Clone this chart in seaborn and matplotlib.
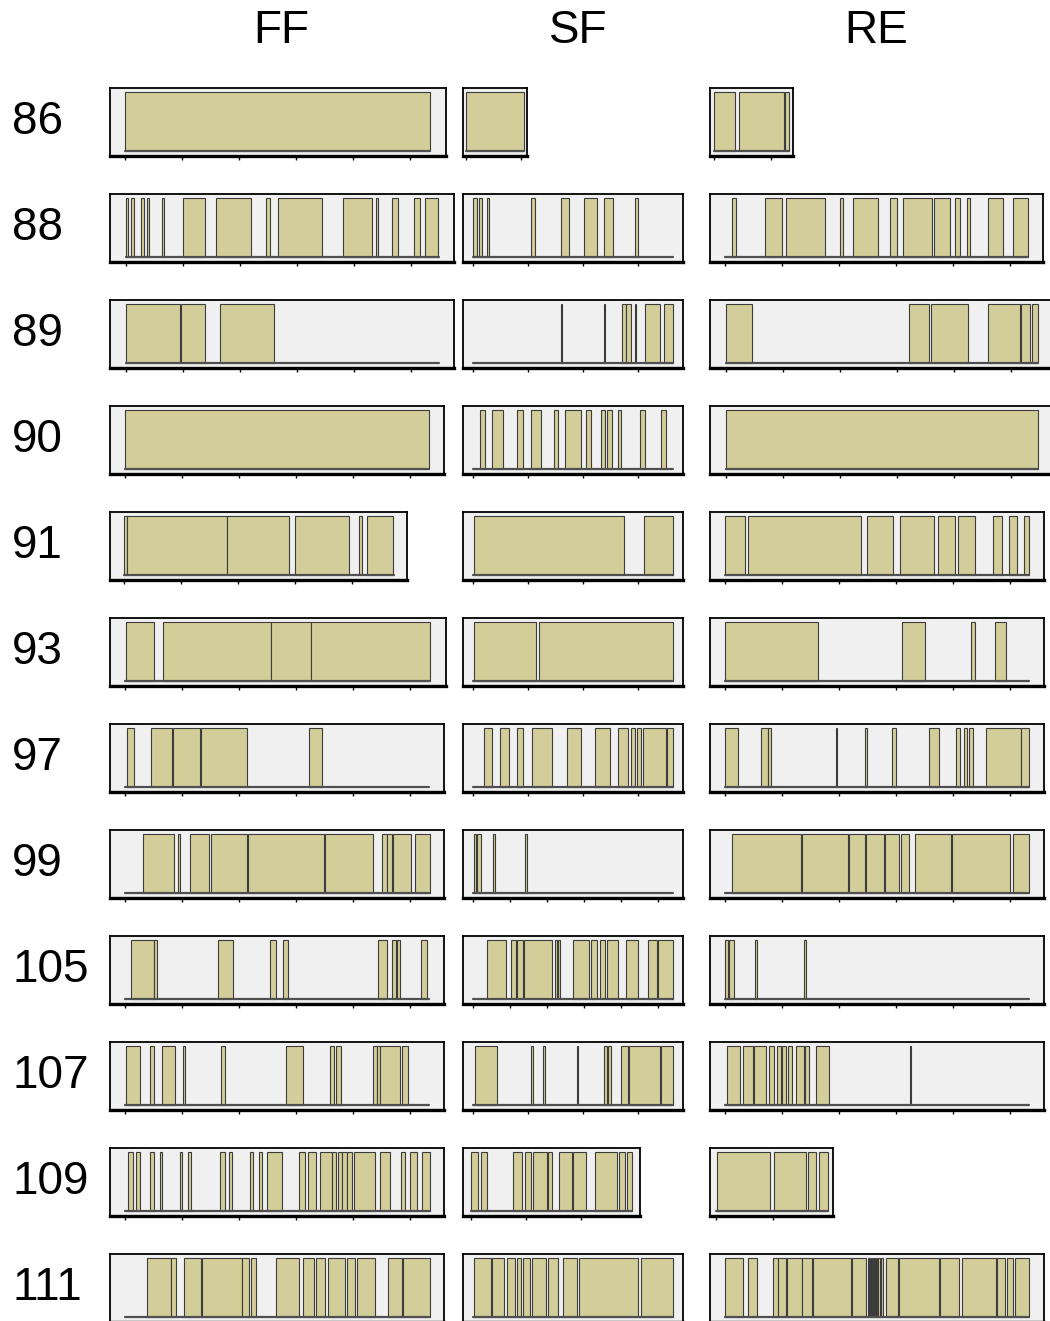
import matplotlib
matplotlib.use("Agg")
import matplotlib.pyplot as plt
import seaborn as sns

# Sessions (rows) and chamber groups (columns)
sessions = ["86", "88", "89", "90", "91", "93", "97", "99", "105", "107", "109", "111"]
groups = ["FF", "SF", "RE"]

# Length of the observed period for each session, per group (days)
ff_span = [305, 313, 313, 304, 270, 305, 304, 304, 304, 304, 304, 304]
sf_span = [58, 200, 200, 200, 200, 200, 200, 200, 200, 200, 161, 200]
re_span = [75, 303, 312, 312, 304, 304, 304, 304, 304, 304, 112, 304]

# Active spells (start, end) in days from the start of the period
ff_spells = {
    "86": [(0, 305)],
    "88": [(0, 2.7), (5.7, 8.3), (15.7, 18.7), (21, 23.3), (36.7, 38.7), (57.7, 79.3),
           (90, 125), (140.7, 144.7), (152, 196), (217.7, 246.7), (250.7, 252.7),
           (266.7, 272.3), (288.7, 294), (299.3, 312.7)],
    "89": [(0.7, 54.6), (55.8, 79.5), (94.6, 148.5)],
    "90": [(0, 304)],
    "91": [(0, 3), (3, 103.7), (103.7, 165), (171, 225.5), (235.8, 238.2), (243, 269)],
    "93": [(0.7, 29.2), (37.6, 145.5), (145.5, 186), (186, 304.3)],
    "97": [(1.9, 9.2), (25.5, 46.7), (48, 74.6), (75.8, 121.3), (183.7, 197)],
    "99": [(17.6, 49.2), (52.8, 55.2), (64.3, 83.7), (86, 121.9), (123, 198.8),
           (199.5, 248), (256.4, 261.3), (261.3, 266.7), (268, 285.5), (289.8, 304.3)],
    "105": [(5.5, 28.5), (28.5, 31.6), (92.8, 107.3), (144.3, 150.4), (157.6, 163),
            (252.8, 261.3), (266.7, 271), (271.6, 274.6), (295.8, 301.3)],
    "107": [(0.7, 14.6), (24.3, 28.5), (37, 49.8), (58.2, 60), (95.8, 100), (160.7, 178.2),
            (204.9, 209.2), (211, 215.8), (248, 251.6), (251.6, 254.6), (254.6, 275.2),
            (276.4, 282.5)],
    "109": [(3.1, 7.3), (10.4, 14.6), (24.9, 28.5), (34.6, 37), (54.6, 57), (63.1, 66.1),
            (95.2, 99.5), (103.7, 106.7), (124.3, 127.9), (133.4, 137), (141.3, 157),
            (174, 179.5), (182.5, 191), (194.6, 206.7), (206.7, 210.4), (212.8, 216.4),
            (216.4, 221.3), (221.3, 226.7), (228.5, 249.8), (255.2, 264.9), (275.8, 279.5),
            (284.3, 291.6), (297, 304.3)],
    "111": [(21.9, 45.5), (45.5, 50.4), (58.8, 75.8), (77, 117), (117, 123.7), (125.5, 130.4),
            (151, 174), (177.6, 188.5), (191, 200), (202.5, 219.5), (221.3, 229.8),
            (231.6, 249.8), (262.5, 277), (278.2, 304.3)],
}

sf_spells = {
    "86": [(0, 58)],
    "88": [(0, 4.3), (6, 9.3), (14.3, 16), (58.3, 61.7), (87.7, 96), (111, 124.3),
           (131.3, 139.7), (161.7, 165.3)],
    "89": [(88, 89), (130.5, 131.5), (149, 153), (153, 157.5), (161.5, 162.5),
           (171.5, 186.6), (190.8, 200)],
    "90": [(7, 11.5), (18.7, 29.6), (43.6, 50.2), (57.5, 68.4), (80.5, 84.8), (91.5, 107.8),
           (112.7, 118.1), (128.4, 132), (133.9, 139.3), (144.8, 148.4), (167.2, 172),
           (188.4, 193.3)],
    "91": [(0.5, 150.8), (170.8, 200)],
    "93": [(0.5, 63), (66, 200)],
    "97": [(10.8, 18.7), (27.2, 35.7), (43.6, 49.6), (58.7, 79.3), (93.9, 107.8),
           (122.4, 136.9), (144.8, 154.5), (157.5, 162.4), (163.6, 168.4), (170.2, 193.3),
           (193.9, 200)],
    "99": [(0.5, 3), (4.2, 7.8), (20, 21.8), (52, 54)],
    "105": [(13.9, 33.3), (38, 43), (44.2, 50.2), (50.8, 79.3), (82, 83.5), (85, 86.5),
            (100, 115.7), (118, 124.2), (127.2, 132), (133.9, 145.4), (153.3, 165.4),
            (174.5, 183.6), (184.8, 200)],
    "107": [(1.8, 23.6), (57.5, 60), (69.6, 72), (103.6, 105.4), (130.8, 133.9), (135, 138),
            (148.4, 154.5), (156.3, 186.6), (187.8, 200)],
    "109": [(0.4, 6.5), (9.5, 15.5), (41.5, 51.3), (53.7, 59.8), (61.5, 75.5), (77.4, 81),
            (87.7, 101), (102.2, 115), (123.5, 145.9), (147.7, 153.7), (155.5, 161)],
    "111": [(0.5, 17.5), (19.3, 30.8), (33.9, 41.8), (44.2, 48.4), (50.2, 56.9), (58.7, 73.3),
            (74.5, 84.8), (89.6, 103.6), (106, 165.4), (167.8, 200)],
}

re_spells = {
    "86": [(0, 21), (25, 70), (71, 75)],
    "88": [(6.7, 10.7), (40, 56.7), (60.7, 100), (115, 118.3), (127.7, 153.3), (164.7, 172),
           (178.3, 206.7), (208.7, 225), (230, 235.3), (241.7, 245), (262.7, 278),
           (288, 302.7)],
    "89": [(0, 26), (183, 203), (205.4, 242.4), (262.4, 294), (295, 304.8), (306, 312)],
    "90": [(0, 312)],
    "91": [(0, 19.4), (23, 135.7), (141.7, 167.9), (174.5, 209), (212.7, 229.7),
           (232.7, 249.7), (267.9, 276.9), (283.6, 291.5), (298.8, 303.6)],
    "93": [(0, 92.7), (176.3, 199.4), (246, 249.7), (269.7, 280.6)],
    "97": [(0, 12.7), (36, 42.7), (42.7, 45.7), (110.6, 112), (139.7, 142), (167, 171.2),
           (204, 214.2), (231.2, 234.8), (238.5, 242), (243.3, 247.5), (261, 295.4),
           (296, 304)],
    "99": [(7.2, 75.7), (77, 123), (124.2, 140), (141.2, 158.8), (160, 174), (175.8, 183.6),
           (189.7, 225.4), (226.6, 284.8), (287.9, 303.6)],
    "105": [(0, 3), (4.2, 9.1), (29.7, 32.1), (78.7, 80.7)],
    "107": [(1.8, 15.1), (18.2, 27.9), (29.1, 41.2), (43.6, 48.5), (51.5, 55.7), (57, 60.6),
            (62.4, 66.7), (70.9, 78.8), (80, 83.7), (91, 103.6), (184.8, 186)],
    "109": [(1.1, 54.4), (58.7, 90.7), (92, 99.9), (103.5, 112)],
    "111": [(0, 18.2), (22.4, 32.1), (47.9, 52.7), (52.7, 60.6), (61.7, 76.9), (76.9, 86.6),
            (88, 126), (127.2, 141.2), (142.4, 144), (144.5, 146), (146.5, 148), (148.5, 150),
            (150.5, 152), (153, 155), (155.5, 157.8), (160.6, 172.7), (174, 213.3),
            (215.1, 233.3), (236.4, 271), (271.5, 280), (281.8, 287.8), (289.7, 303.6)],
}

sns.set_style("white")
plt.rcParams["font.family"] = ["Liberation Sans", "DejaVu Sans"]
plt.rcParams["text.color"] = "black"

W, H = 1050, 1321
fig = plt.figure(figsize=(W / 100, H / 100), dpi=100)

col_left = {"FF": 110, "SF": 463, "RE": 710}
col_title_x = {"FF": 281, "SF": 578, "RE": 876}
tick_step = {"FF": 57, "SF": 55, "RE": 57}
spans = {"FF": ff_span, "SF": sf_span, "RE": re_span}
spells = {"FF": ff_spells, "SF": sf_spells, "RE": re_spells}

fill = "#d3ce99"
panel_h = 68

for g in groups:
    fig.text(col_title_x[g] / W, 1 - 31 / H, g, ha="center", va="center",
             fontsize=33, color="black")

for i, s in enumerate(sessions):
    top = 88 + i * 106
    fig.text(12 / W, 1 - (top + panel_h / 2) / H, s, ha="left", va="center",
             fontsize=33, color="black")
    for g in groups:
        span = spans[g][i]
        width = 1.1 * span
        ax = fig.add_axes([col_left[g] / W, 1 - (top + panel_h) / H, width / W, panel_h / H])
        ax.set_facecolor("#f0f0f0")
        starts = [a for a, b in spells[g][s]]
        lens = [b - a for a, b in spells[g][s]]
        ax.bar(starts, [1] * len(starts), width=lens, align="edge", bottom=0,
               color=fill, edgecolor="#3c3c3c", linewidth=0.8, zorder=2)
        ax.plot([0, span], [0, 0], color="#505050", lw=1.6, zorder=3)
        ax.set_xlim(-0.05 * span, 1.05 * span)
        ax.set_ylim(-0.08, 1.07)
        step = tick_step[g]
        if g == "SF" and s in ("99", "105"):
            step = 37
        ticks = [k * step for k in range(int(span // step) + 1)]
        ax.set_xticks(ticks)
        ax.set_xticklabels([])
        ax.set_yticks([])
        ax.tick_params(axis="x", direction="out", length=3, width=1, color="black",
                       bottom=True, pad=0)
        for side in ["top", "left", "right"]:
            ax.spines[side].set_visible(True)
            ax.spines[side].set_color("black")
            ax.spines[side].set_linewidth(1.3)
        ax.spines["bottom"].set_color("black")
        ax.spines["bottom"].set_linewidth(2.4)

fig.savefig("out.png", dpi=100)
